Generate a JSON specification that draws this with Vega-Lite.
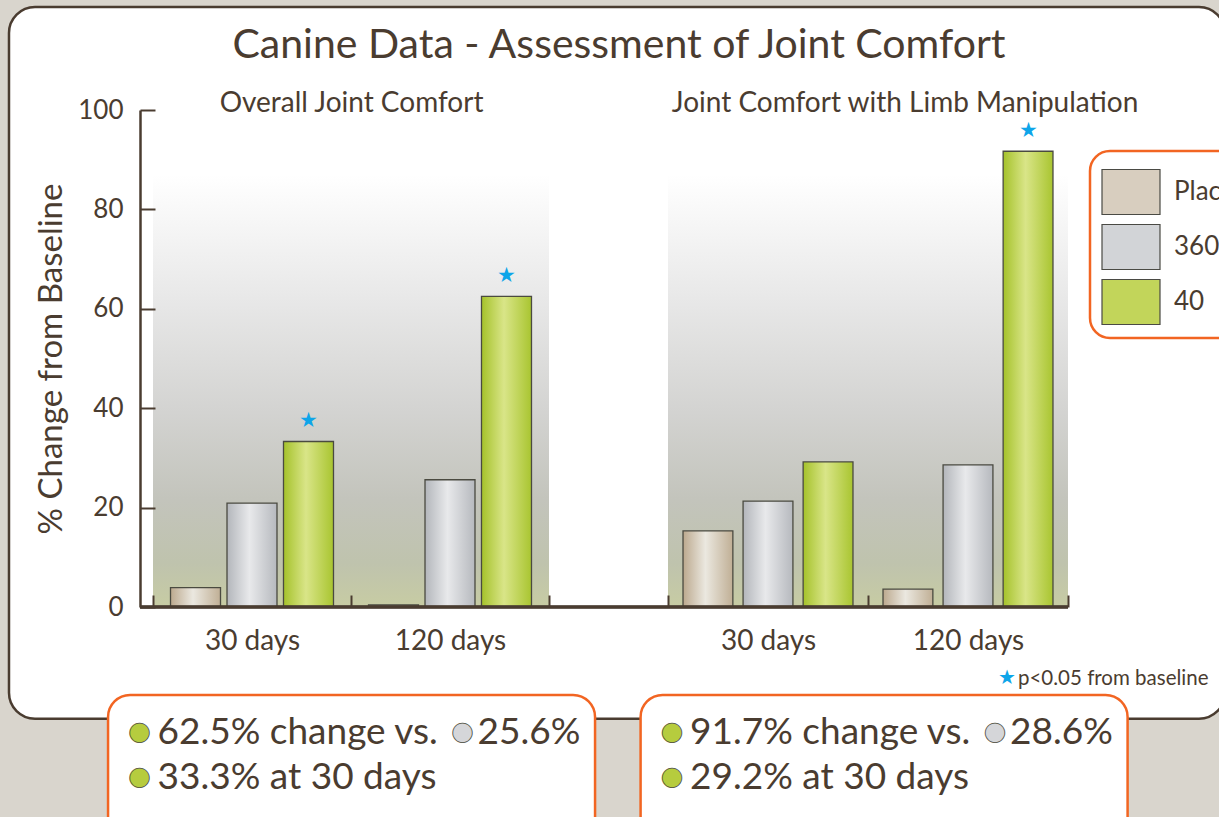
{
  "$schema": "https://vega.github.io/schema/vega-lite/v6.json",
  "width": 928,
  "height": 497,
  "autosize": {"type": "none"},
  "padding": {"left": 140, "top": 110, "right": 151, "bottom": 210},
  "background": "#d9d5cd",
  "datasets": {
    "results": [
      {"panel": "Overall", "days": "30 days", "series": "Placebo", "value": 3.9, "sig": false},
      {"panel": "Overall", "days": "30 days", "series": "360", "value": 20.9, "sig": false},
      {"panel": "Overall", "days": "30 days", "series": "40", "value": 33.3, "sig": true},
      {"panel": "Overall", "days": "120 days", "series": "Placebo", "value": 0.4, "sig": false},
      {"panel": "Overall", "days": "120 days", "series": "360", "value": 25.6, "sig": false},
      {"panel": "Overall", "days": "120 days", "series": "40", "value": 62.5, "sig": true},
      {"panel": "Limb", "days": "30 days", "series": "Placebo", "value": 15.3, "sig": false},
      {"panel": "Limb", "days": "30 days", "series": "360", "value": 21.3, "sig": false},
      {"panel": "Limb", "days": "30 days", "series": "40", "value": 29.2, "sig": false},
      {"panel": "Limb", "days": "120 days", "series": "Placebo", "value": 3.6, "sig": false},
      {"panel": "Limb", "days": "120 days", "series": "360", "value": 28.6, "sig": false},
      {"panel": "Limb", "days": "120 days", "series": "40", "value": 91.7, "sig": true}
    ],
    "panels": [
      {"panel": "Overall Joint Comfort", "line1": "62.5% change vs.", "line1b": "25.6%", "line2": "33.3% at 30 days"},
      {"panel": "Joint Comfort with Limb Manipulation", "line1": "91.7% change vs.", "line1b": "28.6%", "line2": "29.2% at 30 days"}
    ],
    "heading": [
      {"title": "Canine Data - Assessment of Joint Comfort", "note": "p<0.05 from baseline"}
    ]
  },
  "config": {
    "view": {"stroke": null},
    "font": "Lato",
    "axis": {
      "domainColor": "#4a3c30", "domainWidth": 2.5,
      "tickColor": "#4a3c30", "tickWidth": 2,
      "labelColor": "#4a3c30", "labelFont": "Lato",
      "titleFont": "Lato", "titleColor": "#4a3c30", "titleFontWeight": "normal",
      "grid": false
    },
    "legend": {"strokeWidth": 2.5}
  },
  "resolve": {"scale": {"x": "independent", "xOffset": "independent"}, "axis": {"x": "independent"}},
  "layer": [
    {
      "data": {"name": "heading"},
      "encoding": {
        "x": {"field": "title", "type": "nominal", "axis": null,
              "scale": {"paddingInner": 0, "paddingOuter": 0.1, "align": 0.584}}
      },
      "layer": [
        {
          "mark": {"type": "bar", "width": 1216, "fill": "#ffffff", "stroke": "#4a3c30", "strokeWidth": 2.5, "cornerRadius": 26, "clip": false},
          "encoding": {"y": {"datum": 120.7}, "y2": {"datum": -22.5}}
        },
        {
          "mark": {"type": "text", "font": "Lato", "fontSize": 41, "fill": "#4a3c30", "baseline": "middle", "dx": 2, "dy": -64, "clip": false},
          "encoding": {"y": {"datum": 100}, "text": {"field": "title"}}
        },
        {
          "mark": {"type": "text", "text": "★", "fontSize": 20, "fill": "#0ea5e9", "baseline": "middle", "dx": 390, "dy": 71, "clip": false},
          "encoding": {"y": {"datum": 0}}
        },
        {
          "mark": {"type": "text", "font": "Lato", "fontSize": 20.5, "fill": "#4a3c30", "align": "left", "baseline": "middle", "dx": 401, "dy": 72, "clip": false},
          "encoding": {"y": {"datum": 0}, "text": {"field": "note"}}
        }
      ]
    },
    {
      "data": {"name": "panels"},
      "encoding": {
        "x": {"field": "panel", "type": "nominal", "axis": null,
              "sort": ["Overall Joint Comfort", "Joint Comfort with Limb Manipulation"],
              "scale": {"paddingInner": 0.5, "paddingOuter": 0.1213, "align": 0.607}}
      },
      "layer": [
        {
          "mark": {"type": "bar", "width": 487, "fill": "#ffffff", "stroke": "#f26522", "strokeWidth": 2.5, "cornerRadius": 22, "clip": false},
          "encoding": {"y": {"datum": -17.7}, "y2": {"datum": -47}}
        },
        {
          "transform": [{"filter": "datum.panel === 'Overall Joint Comfort'"}],
          "mark": {"type": "text", "font": "Lato", "fontSize": 28, "fill": "#4a3c30", "baseline": "alphabetic", "dy": 2, "clip": false},
          "encoding": {"y": {"datum": 100}, "text": {"field": "panel"}}
        },
        {
          "transform": [{"filter": "datum.panel !== 'Overall Joint Comfort'"}],
          "mark": {"type": "text", "font": "Lato", "fontSize": 28, "fill": "#4a3c30", "baseline": "alphabetic", "dx": 21, "dy": 2, "clip": false},
          "encoding": {"y": {"datum": 100}, "text": {"field": "panel"}}
        },
        {
          "mark": {"type": "text", "text": "●", "fontSize": 40, "fill": "#b6cc3e", "stroke": "#4a4a3a", "strokeWidth": 0.8, "baseline": "middle", "dx": -212, "dy": 126, "clip": false},
          "encoding": {"y": {"datum": 0}}
        },
        {
          "mark": {"type": "text", "font": "Lato", "fontSize": 37, "fill": "#4a3c30", "align": "left", "baseline": "middle", "dx": -194, "dy": 126, "clip": false},
          "encoding": {"y": {"datum": 0}, "text": {"field": "line1"}}
        },
        {
          "mark": {"type": "text", "text": "●", "fontSize": 40, "fill": "#d5d6d9", "stroke": "#4a4a3a", "strokeWidth": 0.8, "baseline": "middle", "dx": 111, "dy": 126, "clip": false},
          "encoding": {"y": {"datum": 0}}
        },
        {
          "mark": {"type": "text", "font": "Lato", "fontSize": 37, "fill": "#4a3c30", "align": "left", "baseline": "middle", "dx": 126, "dy": 126, "clip": false},
          "encoding": {"y": {"datum": 0}, "text": {"field": "line1b"}}
        },
        {
          "mark": {"type": "text", "text": "●", "fontSize": 40, "fill": "#b6cc3e", "stroke": "#4a4a3a", "strokeWidth": 0.8, "baseline": "middle", "dx": -212, "dy": 171, "clip": false},
          "encoding": {"y": {"datum": 0}}
        },
        {
          "mark": {"type": "text", "font": "Lato", "fontSize": 37, "fill": "#4a3c30", "align": "left", "baseline": "middle", "dx": -194, "dy": 171, "clip": false},
          "encoding": {"y": {"datum": 0}, "text": {"field": "line2"}}
        }
      ]
    },
    {
      "data": {"name": "results"},
      "transform": [{"filter": "datum.panel === 'Overall'"}],
      "encoding": {
        "x": {"field": "days", "type": "nominal", "sort": ["30 days", "120 days"],
              "scale": {"range": [13, 409], "paddingInner": 0, "paddingOuter": 0},
              "axis": {"orient": "bottom", "zindex": 3, "title": null, "domain": false, "tickBand": "extent", "tickSize": -12, "labelPadding": 32, "labelFontSize": 28, "labelAngle": 0}},
        "xOffset": {"field": "series", "type": "nominal", "sort": ["Placebo", "360", "40"],
                    "scale": {"paddingInner": 0.115, "paddingOuter": 0.31}},
        "y": {"field": "value", "type": "quantitative",
              "scale": {"domain": [0, 100], "nice": false},
              "axis": {"orient": "left", "zindex": 3, "values": [0, 20, 40, 60, 80, 100], "tickSize": -15, "labelPadding": 32, "labelFontSize": 26, "title": "% Change from Baseline", "titleFontSize": 33, "titlePadding": 9}}
      },
      "layer": [
        {
          "transform": [{"filter": "datum.series === '40'"}],
          "mark": {"type": "bar", "clip": false,
                   "fill": {"gradient": "linear", "x1": 0, "x2": 0, "y1": 0, "y2": 1,
                            "stops": [{"offset": 0, "color": "#ffffff"}, {"offset": 0.3, "color": "#e7e7e7"}, {"offset": 0.55, "color": "#d3d3d1"}, {"offset": 0.75, "color": "#c3c4bc"}, {"offset": 0.9, "color": "#bfc3ad"}, {"offset": 1, "color": "#c7cca3"}]}},
          "encoding": {"xOffset": null, "y": {"datum": 87}, "y2": {"datum": 0}}
        },
        {
          "mark": {"type": "bar"},
          "encoding": {
            "color": {"field": "series", "type": "nominal", "sort": ["Placebo", "360", "40"],
                      "scale": {"domain": ["Placebo", "360", "40"], "range": ["#d8cebf", "#d2d4d7", "#c2d55a"]},
                      "legend": {"orient": "none", "legendX": 950, "legendY": 41, "direction": "vertical", "title": null, "padding": 11,
                                 "strokeColor": "#f26522", "cornerRadius": 20, "fillColor": "#ffffff",
                                 "symbolType": "M-1,-0.776H1V0.776H-1Z", "symbolSize": 3364,
                                 "symbolStrokeColor": "#4a4a44", "symbolStrokeWidth": 1.2, "symbolOpacity": 1,
                                 "rowPadding": 0, "labelOffset": 13, "labelFontSize": 26, "labelFont": "Lato",
                                 "labelColor": "#4a3c30", "labelLimit": 400}}
          }
        },
        {
          "transform": [{"filter": "datum.series === 'Placebo'"}],
          "mark": {"type": "bar", "stroke": "#4a4a40", "strokeWidth": 1.3,
                   "fill": {"gradient": "linear", "x1": 0, "x2": 1, "y1": 0, "y2": 0, "stops": [{"offset": 0, "color": "#bca98e"}, {"offset": 0.45, "color": "#ebe8e0"}, {"offset": 1, "color": "#c0af95"}]}}
        },
        {
          "transform": [{"filter": "datum.series === '360'"}],
          "mark": {"type": "bar", "stroke": "#4a4a40", "strokeWidth": 1.3,
                   "fill": {"gradient": "linear", "x1": 0, "x2": 1, "y1": 0, "y2": 0, "stops": [{"offset": 0, "color": "#b3b6bb"}, {"offset": 0.45, "color": "#e8e9eb"}, {"offset": 1, "color": "#b6b9be"}]}}
        },
        {
          "transform": [{"filter": "datum.series === '40'"}],
          "mark": {"type": "bar", "stroke": "#4a4a40", "strokeWidth": 1.3,
                   "fill": {"gradient": "linear", "x1": 0, "x2": 1, "y1": 0, "y2": 0, "stops": [{"offset": 0, "color": "#a5c22a"}, {"offset": 0.45, "color": "#d9e588"}, {"offset": 1, "color": "#a9c530"}]}}
        },
        {
          "transform": [{"filter": "datum.sig"}],
          "mark": {"type": "text", "text": "★", "fontSize": 21, "fill": "#0ea5e9", "baseline": "middle", "dy": -20}
        }
      ]
    },
    {
      "data": {"name": "results"},
      "transform": [{"filter": "datum.panel === 'Limb'"}],
      "encoding": {
        "x": {"field": "days", "type": "nominal", "sort": ["30 days", "120 days"],
              "scale": {"range": [528, 928], "paddingInner": 0, "paddingOuter": 0},
              "axis": {"orient": "bottom", "zindex": 3, "title": null, "domain": false, "tickBand": "extent", "tickSize": -12, "labelPadding": 32, "labelFontSize": 28, "labelAngle": 0}},
        "xOffset": {"field": "series", "type": "nominal", "sort": ["Placebo", "360", "40"],
                    "scale": {"paddingInner": 0.17, "paddingOuter": 0.25}},
        "y": {"field": "value", "type": "quantitative", "scale": {"domain": [0, 100], "nice": false}}
      },
      "layer": [
        {
          "transform": [{"filter": "datum.series === '40'"}],
          "mark": {"type": "bar", "clip": false,
                   "fill": {"gradient": "linear", "x1": 0, "x2": 0, "y1": 0, "y2": 1,
                            "stops": [{"offset": 0, "color": "#ffffff"}, {"offset": 0.3, "color": "#e7e7e7"}, {"offset": 0.55, "color": "#d3d3d1"}, {"offset": 0.75, "color": "#c3c4bc"}, {"offset": 0.9, "color": "#bfc3ad"}, {"offset": 1, "color": "#c7cca3"}]}},
          "encoding": {"xOffset": null, "y": {"datum": 87}, "y2": {"datum": 0}}
        },
        {
          "transform": [{"filter": "datum.series === 'Placebo'"}],
          "mark": {"type": "bar", "stroke": "#4a4a40", "strokeWidth": 1.3,
                   "fill": {"gradient": "linear", "x1": 0, "x2": 1, "y1": 0, "y2": 0, "stops": [{"offset": 0, "color": "#bca98e"}, {"offset": 0.45, "color": "#ebe8e0"}, {"offset": 1, "color": "#c0af95"}]}}
        },
        {
          "transform": [{"filter": "datum.series === '360'"}],
          "mark": {"type": "bar", "stroke": "#4a4a40", "strokeWidth": 1.3,
                   "fill": {"gradient": "linear", "x1": 0, "x2": 1, "y1": 0, "y2": 0, "stops": [{"offset": 0, "color": "#b3b6bb"}, {"offset": 0.45, "color": "#e8e9eb"}, {"offset": 1, "color": "#b6b9be"}]}}
        },
        {
          "transform": [{"filter": "datum.series === '40'"}],
          "mark": {"type": "bar", "stroke": "#4a4a40", "strokeWidth": 1.3,
                   "fill": {"gradient": "linear", "x1": 0, "x2": 1, "y1": 0, "y2": 0, "stops": [{"offset": 0, "color": "#a5c22a"}, {"offset": 0.45, "color": "#d9e588"}, {"offset": 1, "color": "#a9c530"}]}}
        },
        {
          "transform": [{"filter": "datum.sig"}],
          "mark": {"type": "text", "text": "★", "fontSize": 21, "fill": "#0ea5e9", "baseline": "middle", "dy": -20}
        },
        {
          "mark": {"type": "rule", "color": "#4a3c30", "strokeWidth": 2.5},
          "encoding": {"x": null, "xOffset": null, "y": {"datum": 0}}
        }
      ]
    }
  ]
}
